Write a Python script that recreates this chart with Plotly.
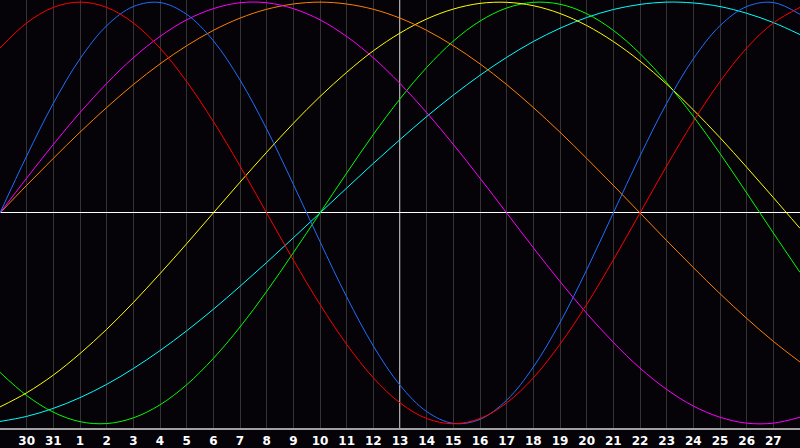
import plotly.graph_objects as go

# Day labels along the bottom (first and last gridlines carry no label)
day_numbers = [29, 30, 31, 1, 2, 3, 4, 5, 6, 7, 8, 9, 10, 11, 12, 13, 14, 15,
               16, 17, 18, 19, 20, 21, 22, 23, 24, 25, 26, 27, 28]
today_label = 13

# Curve values (-1 .. +1), one value per day gridline
red = [0.782, 0.901, 0.975, 1.0, 0.975, 0.901, 0.782, 0.623, 0.434, 0.223, 0.0,
       -0.223, -0.434, -0.623, -0.782, -0.901, -0.975, -1.0, -0.975, -0.901, -0.782,
       -0.623, -0.434, -0.223, 0.0, 0.223, 0.434, 0.623, 0.782, 0.901, 0.975]
blue = [0.0, 0.270, 0.520, 0.731, 0.888, 0.979, 0.998, 0.942, 0.817, 0.631, 0.398,
        0.136, -0.136, -0.398, -0.631, -0.817, -0.942, -0.998, -0.979, -0.888, -0.731,
        -0.520, -0.270, 0.0, 0.270, 0.520, 0.731, 0.888, 0.979, 0.998, 0.942]
magenta = [0.0, 0.165, 0.325, 0.476, 0.614, 0.736, 0.837, 0.916, 0.969, 0.997, 0.997,
           0.969, 0.916, 0.837, 0.736, 0.614, 0.476, 0.325, 0.165, 0.0, -0.165,
           -0.325, -0.476, -0.614, -0.736, -0.837, -0.916, -0.969, -0.997, -0.997, -0.969]
orange = [0.0, 0.131, 0.259, 0.383, 0.5, 0.609, 0.707, 0.793, 0.866, 0.924, 0.966,
          0.991, 1.0, 0.991, 0.966, 0.924, 0.866, 0.793, 0.707, 0.609, 0.5,
          0.383, 0.259, 0.131, 0.0, -0.131, -0.259, -0.383, -0.5, -0.609, -0.707]
green = [-0.756, -0.866, -0.945, -0.990, -0.999, -0.972, -0.910, -0.815, -0.690, -0.541, -0.372,
         -0.189, 0.0, 0.189, 0.372, 0.541, 0.690, 0.815, 0.910, 0.972, 0.999,
         0.990, 0.945, 0.866, 0.756, 0.618, 0.458, 0.282, 0.095, -0.095, -0.282]
yellow = [-0.920, -0.853, -0.769, -0.667, -0.552, -0.425, -0.288, -0.146, 0.0, 0.146, 0.288,
          0.425, 0.552, 0.667, 0.769, 0.853, 0.920, 0.967, 0.994, 0.999, 0.983,
          0.946, 0.889, 0.813, 0.720, 0.611, 0.489, 0.357, 0.217, 0.073, -0.073]
cyan = [-0.989, -0.965, -0.927, -0.876, -0.813, -0.738, -0.653, -0.559, -0.457, -0.348, -0.235,
        -0.118, 0.0, 0.118, 0.235, 0.348, 0.457, 0.559, 0.653, 0.738, 0.813,
        0.876, 0.927, 0.965, 0.989, 1.000, 0.996, 0.979, 0.947, 0.903, 0.846]

series = [
    ("cyan", cyan, "#00ffff"),
    ("green", green, "#00ff00"),
    ("yellow", yellow, "#ffff00"),
    ("orange", orange, "#ff8000"),
    ("magenta", magenta, "#ff00ff"),
    ("blue", blue, "#1e6eff"),
    ("red", red, "#ff0000"),
]

x = list(range(len(day_numbers)))
tick_text = [""] + [str(d) for d in day_numbers[1:-1]] + [""]

fig = go.Figure()
for name, vals, col in series:
    fig.add_trace(go.Scatter(x=x, y=vals, mode="lines", name=name,
                             line=dict(color=col, width=1, shape="spline", smoothing=1.0),
                             hoverinfo="skip"))

today_x = day_numbers.index(today_label)
fig.add_vline(x=today_x, line=dict(color="#ffffff", width=1.3), layer="below")

bg = "#050308"
fig.update_layout(
    width=800, height=448,
    margin=dict(l=0, r=0, t=0, b=20, autoexpand=False),
    paper_bgcolor=bg, plot_bgcolor=bg,
    showlegend=False,
    xaxis=dict(range=[0, len(day_numbers) - 1], tickmode="array", tickvals=x, ticktext=tick_text,
               showgrid=True, gridcolor="#333333", gridwidth=1, zeroline=False,
               showline=True, linecolor="#a0a0a0", linewidth=1.5, mirror=True,
               ticks="", ticklabelstandoff=1,
               tickfont=dict(family="DejaVu Sans", size=12, color="#ffffff", weight="bold"),
               fixedrange=True),
    yaxis=dict(range=[-1.02, 1.01], showgrid=False, showticklabels=False, ticks="",
               zeroline=True, zerolinecolor="#ffffff", zerolinewidth=1.3,
               showline=True, linecolor="#a0a0a0", linewidth=1.5, mirror=True,
               fixedrange=True),
)

fig.write_html("out.html", config={"displayModeBar": False},
               post_script="document.body.style.margin='0';document.body.style.padding='0';"
                           "document.body.style.background='#050308';")
